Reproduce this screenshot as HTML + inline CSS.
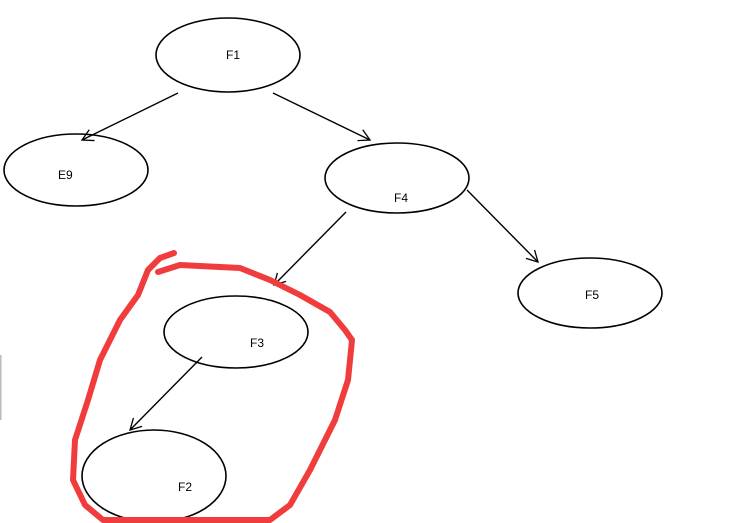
<!DOCTYPE html>
<html><head><style>body{margin:0;background:#fff}svg{display:block}</style></head><body>
<svg width="729" height="523" viewBox="0 0 729 523" xmlns="http://www.w3.org/2000/svg" font-family="Liberation Sans, sans-serif" font-size="12">
<defs><marker id="a" markerWidth="14" markerHeight="14" refX="12" refY="7" orient="auto" markerUnits="userSpaceOnUse"><path d="M1,1 L12,7 L1,13" fill="none" stroke="#000" stroke-width="1.3"/></marker></defs>
<rect x="0" y="355" width="1.5" height="65" fill="#bbb"/>
<g fill="none" stroke="#000" stroke-width="1.6">
<ellipse cx="228" cy="55" rx="72" ry="37"/>
<ellipse cx="76" cy="170" rx="72" ry="36"/>
<ellipse cx="397" cy="178" rx="72" ry="35"/>
<ellipse cx="590" cy="293" rx="72" ry="35"/>
<ellipse cx="236" cy="332" rx="72" ry="36"/>
<ellipse cx="154" cy="476" rx="72" ry="46"/>
</g>
<g stroke="#000" stroke-width="1.4" marker-end="url(#a)">
<line x1="178" y1="93" x2="82" y2="140"/>
<line x1="273" y1="93" x2="370" y2="140"/>
<line x1="346" y1="212" x2="274" y2="285"/>
<line x1="467" y1="190" x2="538" y2="262"/>
<line x1="202" y1="357" x2="130" y2="430"/>
</g>
<g fill="#000">
<text x="226" y="59">F1</text><text x="58" y="179">E9</text><text x="394" y="202">F4</text>
<text x="585" y="299">F5</text><text x="250" y="347">F3</text><text x="178" y="491">F2</text>
</g>
<path d="M174,253 L160,258 L148,270 L138,295 L120,320 L100,360 L88,400 L75,440 L73,480 L85,505 L103,520 L270,520 L290,505 L310,470 L335,420 L348,380 L352,340 L345,330 L330,312 L300,295 L270,280 L240,268 L180,265 L158,272" fill="none" stroke="#f03c3c" stroke-width="6" stroke-linecap="round" stroke-linejoin="round"/>
</svg>
</body></html>
